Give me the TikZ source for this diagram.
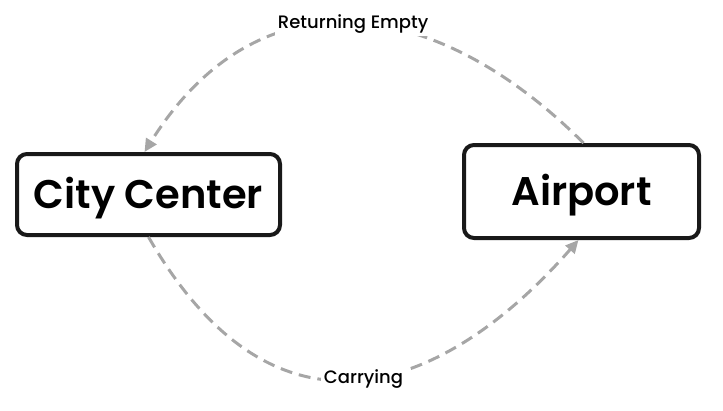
\documentclass[tikz,border=0pt]{standalone}
\usepackage{fontspec}
\setmainfont{Poppins}[UprightFont=* Medium, BoldFont=* SemiBold]
\usetikzlibrary{arrows.meta}
\definecolor{flowgray}{HTML}{A6A6A6}
\tikzset{
  place/.style={draw=black!90, line width=4pt, rounded corners=10pt, fill=white,
    inner sep=0pt, text height=28pt, text depth=0pt, font=\fontsize{40}{46}\bfseries},
  trip/.style={draw=flowgray, line width=3pt, dash pattern=on 12pt off 7pt,
    -{Triangle[length=13pt,width=12pt,fill=flowgray]}},
  tag/.style={fill=white, inner sep=3pt, font=\fontsize{18}{21}\selectfont, text=black}
}
\begin{document}
\begin{tikzpicture}[x=1pt, y=-1pt]
  \useasboundingbox (0,0) rectangle (723,410);
  \node[place, minimum width=263pt, minimum height=81pt] (city) at (148.5,194.5) {City Center};
  \node[place, minimum width=235pt, minimum height=93pt] (airport) at (581.5,191.5) {Airport};
  % return leg, over the top
  \draw[trip] ([xshift=2pt]airport.north) .. controls +(-145,-145) and +(116,-185) .. ([xshift=-4pt]city.north)
    node[tag, pos=0.5] (ret) {Returning Empty};
  % loaded leg, underneath
  \draw[trip] (city.south) .. controls +(130,226) and +(-130,148) .. ([xshift=-3pt]airport.south)
    node[tag, pos=0.5] (car) {Carrying};
\end{tikzpicture}
\end{document}
